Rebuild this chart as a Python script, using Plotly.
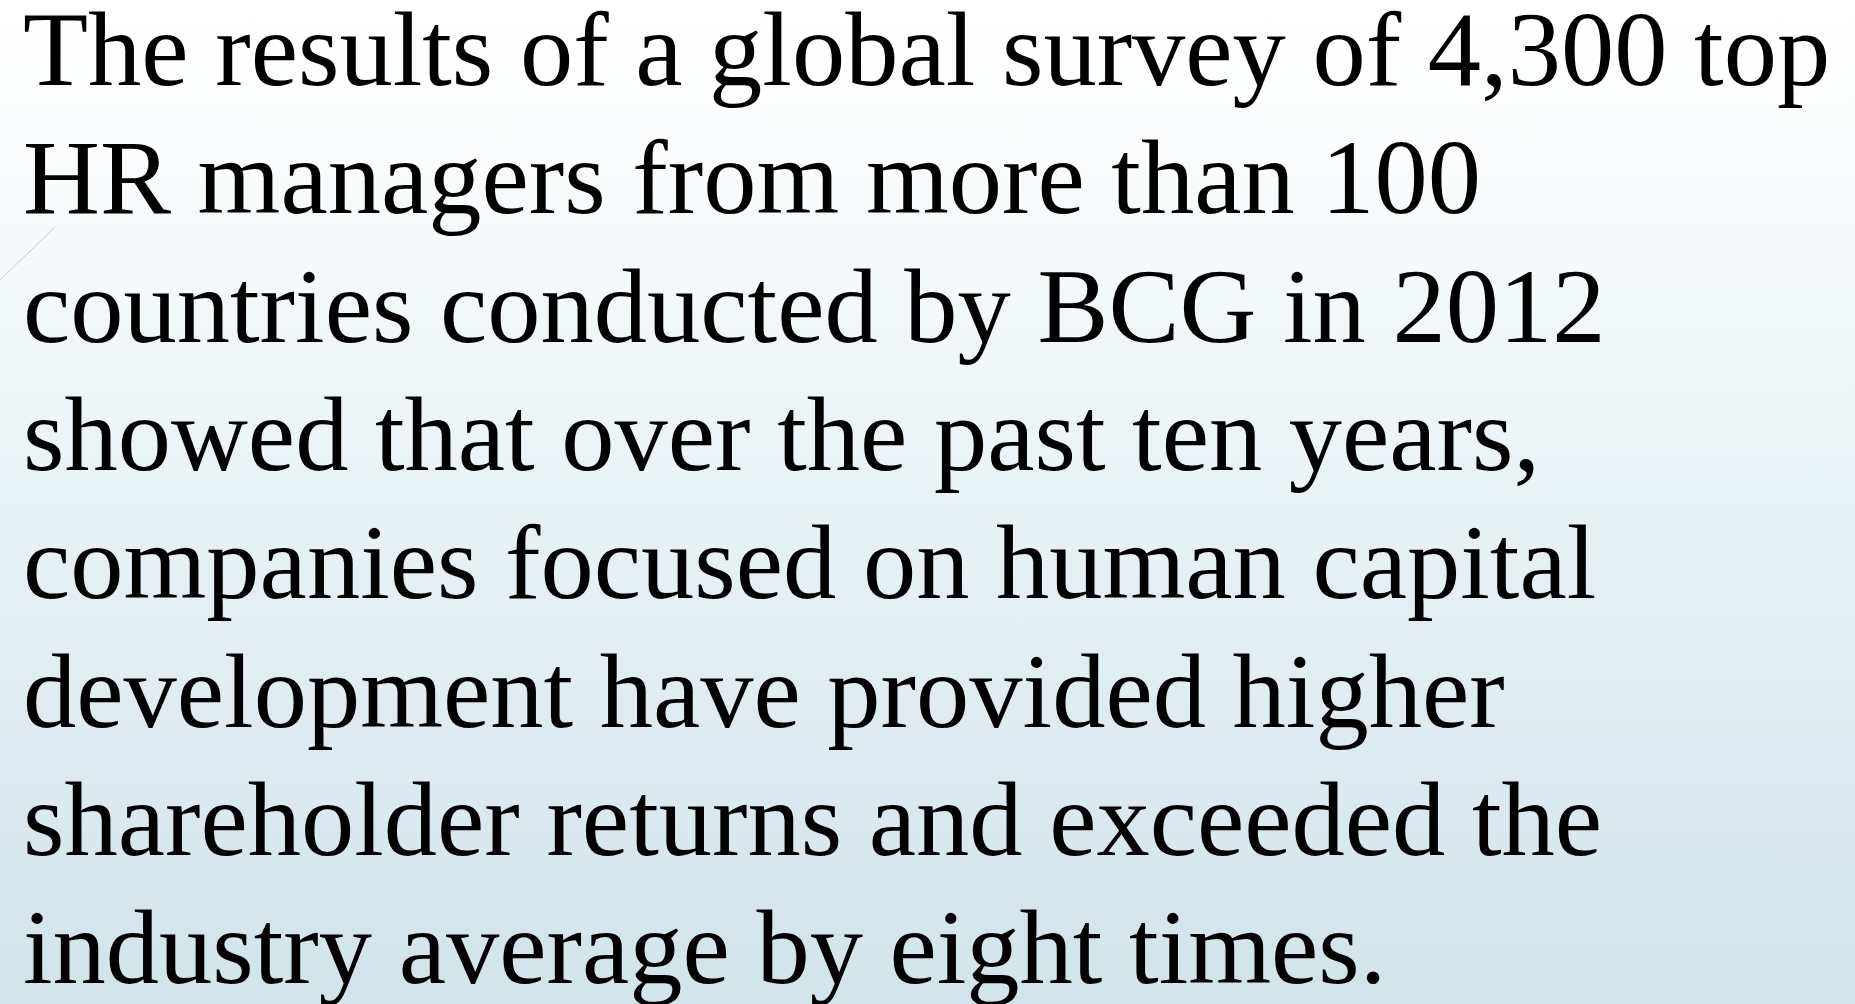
import plotly.graph_objects as go

# Slide text, one entry per rendered line
lines = [
    "The results of a global survey of 4,300 top",
    "HR managers from more than 100",
    "countries conducted by BCG in 2012",
    "showed that over the past ten years,",
    "companies focused on human capital",
    "development have provided higher",
    "shareholder returns and exceeded the",
    "industry average by eight times.",
]

W, H = 1855, 1004
FONT_SIZE = 106.5
FIRST_BASELINE = 85
LINE_STEP = 128.3
LEFT = 21

fig = go.Figure()

# background vertical gradient
fig.add_trace(go.Scatter(
    x=[0, W, W, 0, 0], y=[0, 0, H, H, 0],
    mode="lines", line=dict(width=0), fill="toself",
    fillgradient=dict(type="vertical", start=0, stop=H,
                      colorscale=[[0, "#FFFFFF"], [0.15, "#FAFCFD"], [1, "#D0E4EA"]]),
    hoverinfo="skip", showlegend=False,
))

# thin decorative diagonal line
fig.add_shape(type="line", x0=0, y0=280, x1=55, y1=227,
              line=dict(color="#C5CCD3", width=1), layer="above")

for i, t in enumerate(lines):
    baseline = FIRST_BASELINE + i * LINE_STEP
    fig.add_annotation(
        x=LEFT, y=baseline - 0.30 * FONT_SIZE - 4, xref="x", yref="y",
        text=t, showarrow=False, xanchor="left", yanchor="middle",
        font=dict(family="Liberation Serif, Times New Roman, serif",
                  size=FONT_SIZE, color="#000000"),
    )

fig.update_xaxes(range=[0, W], visible=False, fixedrange=True)
fig.update_yaxes(range=[H, 0], visible=False, fixedrange=True)
fig.update_layout(
    width=W, height=H, margin=dict(l=0, r=0, t=0, b=0),
    paper_bgcolor="#FFFFFF", plot_bgcolor="#FFFFFF",
    showlegend=False,
)

fig.write_html("out.html", config={"displayModeBar": False},
               post_script="document.body.style.margin='0';document.body.style.overflow='hidden';")
